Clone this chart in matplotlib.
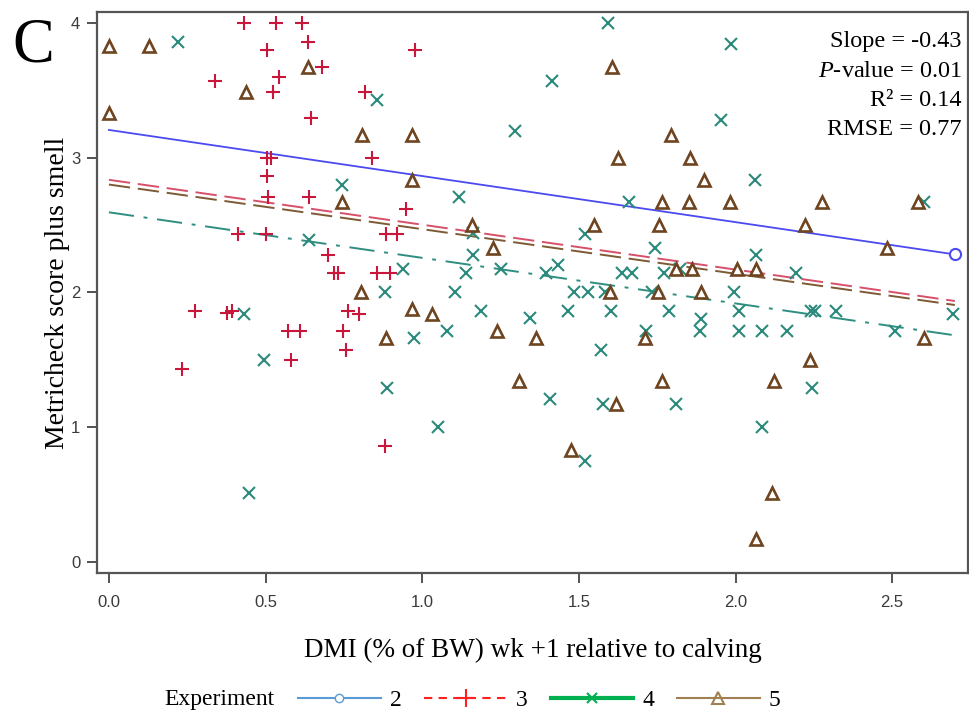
import matplotlib
matplotlib.use("Agg")
import matplotlib.pyplot as plt
from matplotlib import font_manager
from matplotlib.lines import Line2D
import numpy as np

# ---------------- data ----------------
exp3_x = [0.43, 0.534, 0.616, 0.636, 0.504, 0.978, 0.68, 0.544, 0.338, 0.523,
          0.817, 0.646, 0.84, 0.504, 0.517, 0.504, 0.948, 0.507, 0.64, 0.412,
          0.50, 0.886, 0.919, 0.70, 0.717, 0.73, 0.855, 0.897, 0.274, 0.377,
          0.393, 0.762, 0.797, 0.571, 0.611, 0.748, 0.582, 0.758, 0.232, 0.88]
exp3_y = [4.0, 4.0, 4.0, 3.86, 3.80, 3.80, 3.67, 3.60, 3.57, 3.49,
          3.49, 3.29, 3.0, 3.0, 3.0, 2.86, 2.62, 2.71, 2.71, 2.43,
          2.43, 2.43, 2.43, 2.28, 2.14, 2.14, 2.14, 2.14, 1.86, 1.85,
          1.86, 1.86, 1.84, 1.71, 1.71, 1.71, 1.50, 1.57, 1.43, 0.86]

exp4_x = [0.22, 0.855, 0.744, 0.64, 0.43, 0.496, 0.447, 0.88, 0.889,
          1.295, 1.413, 1.592, 1.118, 1.661, 1.163, 1.163, 0.94, 1.139, 1.252,
          1.396, 1.432, 1.518, 1.639, 1.670, 1.104, 1.485, 1.53, 1.583,
          1.984, 1.953, 2.062, 2.60, 1.743, 2.065, 1.773, 1.822, 2.193, 1.994, 1.735,
          1.187, 1.343, 1.466, 1.602, 1.788, 1.079, 0.973, 1.715, 1.572,
          1.408, 1.051, 1.578, 1.519,
          1.89, 2.012, 2.24, 2.255, 2.322, 2.695, 1.886, 2.012, 2.086, 2.163,
          2.509, 1.809, 2.243, 2.086]
exp4_y = [3.86, 3.43, 2.80, 2.39, 1.84, 1.50, 0.51, 2.0, 1.29,
          3.20, 3.57, 4.0, 2.71, 2.67, 2.44, 2.28, 2.17, 2.14, 2.17,
          2.14, 2.20, 2.43, 2.14, 2.14, 2.0, 2.0, 2.0, 2.0,
          3.84, 3.28, 2.83, 2.67, 2.33, 2.28, 2.14, 2.17, 2.14, 2.0, 2.0,
          1.86, 1.81, 1.86, 1.86, 1.86, 1.71, 1.66, 1.71, 1.57,
          1.21, 1.0, 1.17, 0.75,
          1.80, 1.86, 1.86, 1.86, 1.86, 1.84, 1.71, 1.71, 1.71, 1.71,
          1.71, 1.17, 1.29, 1.0]

exp5_x = [0.0, 0.129, 0.0, 0.437, 0.635, 0.807, 0.743, 0.968, 0.968, 1.159,
          1.225, 1.607, 1.626, 1.548, 1.60, 0.806, 0.884, 0.968, 1.032, 1.24,
          1.363, 1.31, 1.62, 1.475, 1.71, 1.793, 1.855, 1.90, 1.764, 1.852,
          1.982, 2.275, 2.583, 1.757, 2.221, 2.484, 1.81, 1.86, 2.006, 2.065,
          1.753, 1.89, 1.764, 2.124, 2.237, 2.60, 2.115, 2.065]
exp5_y = [3.83, 3.83, 3.33, 3.49, 3.67, 3.17, 2.67, 3.17, 2.83, 2.50,
          2.33, 3.67, 3.0, 2.50, 2.0, 2.0, 1.66, 1.88, 1.84, 1.71,
          1.66, 1.34, 1.17, 0.83, 1.66, 3.17, 3.0, 2.83, 2.67, 2.67,
          2.67, 2.67, 2.67, 2.50, 2.50, 2.33, 2.17, 2.17, 2.17, 2.17,
          2.0, 2.0, 1.34, 1.34, 1.50, 1.66, 0.51, 0.17]

exp2_x = [2.70]
exp2_y = [2.285]

# regression lines (intercept, slope) per experiment
fit_x = [0.0, 2.70]
fit_intercept = {"2": 3.205, "3": 2.835, "4": 2.594, "5": 2.800}
fit_slope = {"2": -0.342, "3": -0.333, "4": -0.338, "5": -0.331}

x_ticks = [0.0, 0.5, 1.0, 1.5, 2.0, 2.5]
x_ticklabels = ["0.0", "0.5", "1.0", "1.5", "2.0", "2.5"]
y_ticks = [0, 1, 2, 3, 4]

stats_lines = ["Slope = -0.43", r"$\it{P}$-value = 0.01", "R\u00b2 = 0.14", "RMSE = 0.77"]
legend_labels = ["2", "3", "4", "5"]

# ---------------- fonts ----------------
names = {f.name for f in font_manager.fontManager.ttflist}
serif = "Liberation Serif" if "Liberation Serif" in names else "DejaVu Serif"
narrow = "Liberation Sans Narrow" if "Liberation Sans Narrow" in names else "Liberation Sans"
plt.rcParams["mathtext.fontset"] = "custom"
plt.rcParams["mathtext.rm"] = serif
plt.rcParams["mathtext.it"] = serif + ":italic"

W, H = 969, 715
fig = plt.figure(figsize=(W / 100, H / 100), dpi=100)
ax = fig.add_axes([97 / W, 1 - 573 / H, (968 - 97) / W, (573 - 12) / H])

c_red = "#c8173a"
c_teal = "#2b8a7c"
c_brown = "#6e4520"
c_blue = "#4a4af0"

xx = np.array(fit_x)
ax.plot(xx, fit_intercept["3"] + fit_slope["3"] * xx, color="#d6506a", lw=1.4,
        dashes=(11, 4), zorder=2)
ax.plot(xx, fit_intercept["5"] + fit_slope["5"] * xx, color="#7d5a33", lw=1.4,
        dashes=(11, 4), zorder=2)
ax.plot(xx, fit_intercept["4"] + fit_slope["4"] * xx, color="#2e8e80", lw=1.4,
        dashes=(13, 5, 2, 5), zorder=2)
ax.plot(xx, fit_intercept["2"] + fit_slope["2"] * xx, color=c_blue, lw=1.3, zorder=2)

ax.plot(exp3_x, exp3_y, ls="none", marker="+", ms=9.5, mew=1.5, color=c_red, zorder=3)
ax.plot(exp4_x, exp4_y, ls="none", marker="x", ms=8.5, mew=1.5, color=c_teal, zorder=3)
ax.plot(exp5_x, exp5_y, ls="none", marker="^", ms=8, mew=1.9, mfc="white",
        mec=c_brown, color=c_brown, zorder=3)
ax.plot(exp2_x, exp2_y, ls="none", marker="o", ms=8, mew=1.5, mfc="white",
        mec=c_blue, zorder=4)

ax.set_xlim(-0.038, 2.742)
ax.set_ylim(-0.082, 4.08)
ax.set_xticks(x_ticks)
ax.set_xticklabels(x_ticklabels)
ax.set_yticks(y_ticks)
for s in ax.spines.values():
    s.set_color("#555555")
    s.set_linewidth(1.6)
ax.tick_params(axis="both", direction="out", length=7, width=1.3, color="#444444",
               labelcolor="#3a3a3a", labelsize=12, pad=9)
for lab in ax.get_xticklabels() + ax.get_yticklabels():
    lab.set_family(narrow)
ax.tick_params(axis="y", pad=5)

ax.set_xlabel("DMI (% of BW) wk +1 relative to calving", family=serif, fontsize=19.5,
              labelpad=20)
ax.set_ylabel("Metricheck score plus smell", family=serif, fontsize=20, labelpad=1)

for i, t in enumerate(stats_lines):
    fig.text(962 / W, 1 - [47, 77, 106, 135][i] / H, t, ha="right", va="baseline",
             family=serif, fontsize=17.5)

fig.text(12 / W, 1 - 62 / H, "C", family=serif, fontsize=45, va="baseline", ha="left")

handles = [
    Line2D([], [], color="#5b9bd5", lw=1.5, marker="o", ms=6, mfc="white", mec="#5b9bd5"),
    Line2D([], [], color="#ff2020", lw=1.5, dashes=(4, 3), marker="+", ms=13, mew=1.5),
    Line2D([], [], color="#00b050", lw=3, marker="x", ms=7, mew=1.5),
    Line2D([], [], color="#a08050", lw=1.5, marker="^", ms=8, mfc="none", mew=1.5),
]
fig.text(164 / W, 1 - 700 / H, "Experiment", family=serif, fontsize=17, va="center",
         ha="left")
fig.legend(handles, legend_labels, loc="center left", bbox_to_anchor=(298 / W, 1 - 700 / H),
           ncol=4, frameon=False, handlelength=3.5, handletextpad=0.4, columnspacing=0.95,
           borderaxespad=0, borderpad=0, prop={"family": serif, "size": 17})

fig.savefig("out.png", dpi=100)
